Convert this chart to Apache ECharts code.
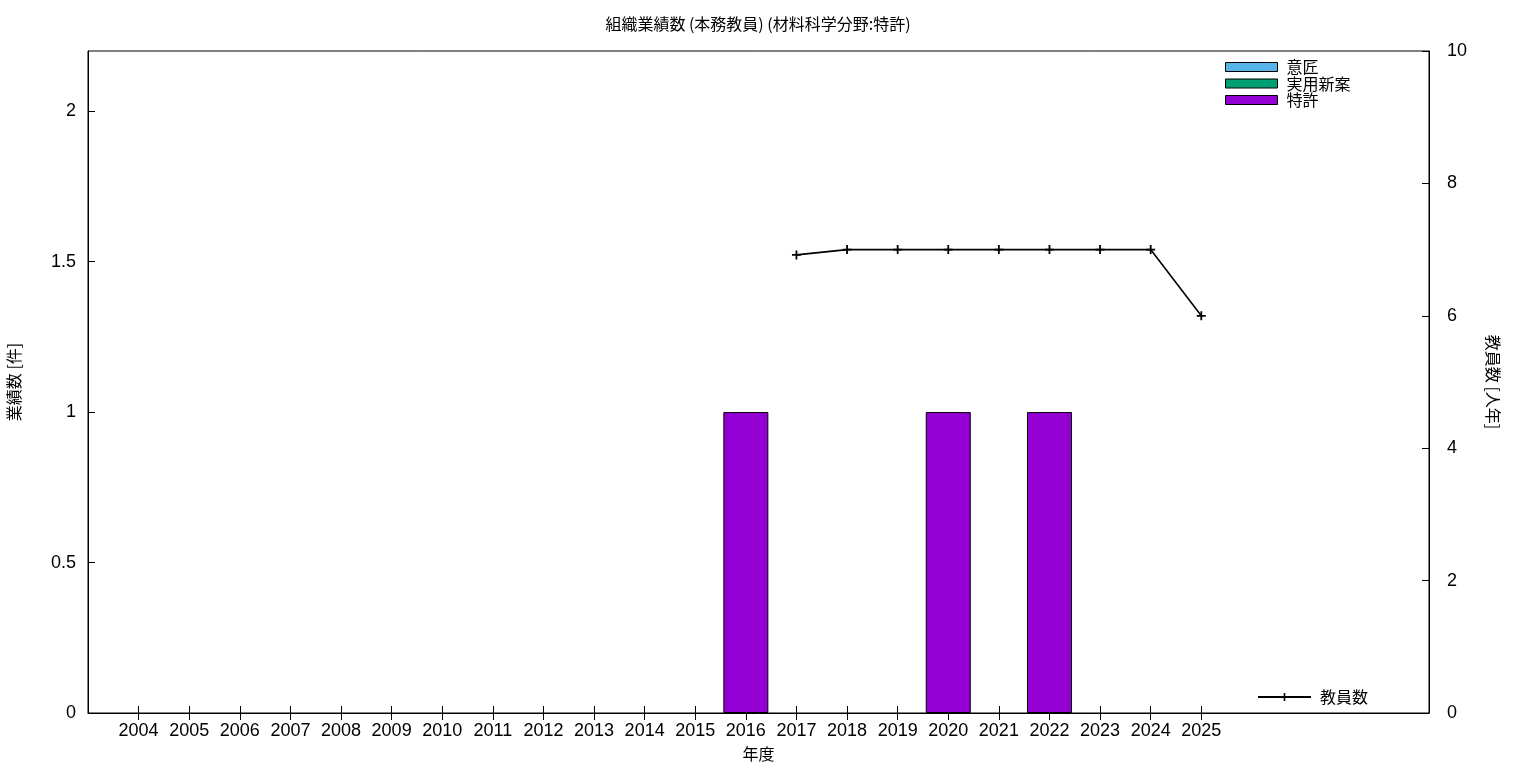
<!DOCTYPE html>
<html>
<head>
<meta charset="utf-8">
<script src="https://cdn.jsdelivr.net/npm/echarts@6/dist/echarts.min.js"></script>
<style>
html,body{margin:0;padding:0;background:#fff;}
#c{width:1536px;height:768px;}
</style>
</head>
<body>
<div id="c"></div>
<script>
const years = [2004,2005,2006,2007,2008,2009,2010,2011,2012,2013,2014,2015,2016,2017,2018,2019,2020,2021,2022,2023,2024,2025];
const designValues  = [0,0,0,0,0,0,0,0,0,0,0,0,0,0,0,0,0,0,0,0,0,0];
const utilityValues = [0,0,0,0,0,0,0,0,0,0,0,0,0,0,0,0,0,0,0,0,0,0];
const patentValues  = [0,0,0,0,0,0,0,0,0,0,0,0,1,0,0,0,1,0,1,0,0,0];
const staffYears  = [2017,2018,2019,2020,2021,2022,2023,2024,2025];
const staffValues = [6.92,7,7,7,7,7,7,7,6];
const leftTicks  = [0,0.5,1,1.5,2];
const rightTicks = [0,2,4,6,8,10];

const FONT = '"Noto Sans CJK JP", "Noto Sans", sans-serif';
const NUMFONT = '"Liberation Sans", "Noto Sans CJK JP", sans-serif';
const plus = 'path://M4,0H6V10H4ZM0,4H10V6H0Z';

const pairs = vals => years.map((y,i)=>[y, vals[i]]);

const chart = echarts.init(document.getElementById('c'), null, {renderer:'canvas'});
chart.setOption({
  animation:false,
  backgroundColor:'#fff',
  textStyle:{fontFamily:FONT,color:'#000'},
  title:{text:'組織業績数 (本務教員) (材料科学分野:特許)',left:758,top:16,textAlign:'center',padding:0,
    textStyle:{fontFamily:FONT,fontSize:16,fontWeight:'normal',color:'#000'}},
  grid:{left:88,right:107,top:51,bottom:55,show:true,borderColor:'#000',borderWidth:1,
    backgroundColor:'transparent',containLabel:false,outerBoundsMode:'none'},
  legend:[{
    data:['意匠','実用新案','特許'],orient:'vertical',left:1225,top:59,padding:0,
    itemWidth:52,itemHeight:9,itemGap:0.5,
    textStyle:{fontFamily:FONT,fontSize:16,lineHeight:16,color:'#000',padding:[0,0,0,4]},
    icon:'rect',itemStyle:{borderColor:'#000',borderWidth:1}
  },{
    data:['教員数'],left:1257,top:689,padding:0,itemWidth:53,itemHeight:10,
    textStyle:{fontFamily:FONT,fontSize:16,lineHeight:16,color:'#000',padding:[0,0,0,4]}
  }],
  xAxis:[{
    type:'value',min:2003,max:2029.5,interval:1,position:'bottom',
    name:'年度',nameLocation:'middle',nameGap:33,
    nameTextStyle:{fontFamily:FONT,fontSize:16,color:'#000'},
    axisLine:{show:true,lineStyle:{color:'#000',width:1}},
    axisTick:{show:true,inside:true,length:7,customValues:years,lineStyle:{color:'#000'}},
    axisLabel:{show:true,customValues:years,fontFamily:NUMFONT,fontSize:18,color:'#000',margin:9,formatter:v=>String(v)},
    splitLine:{show:false}
  },{
    type:'value',min:2003,max:2029.5,interval:1,position:'top',
    axisLine:{show:false},
    axisTick:{show:true,inside:true,length:7,customValues:years,lineStyle:{color:'#000'}},
    axisLabel:{show:false},splitLine:{show:false}
  }],
  yAxis:[{
    type:'value',min:0,max:2.2,position:'left',
    name:'業績数 [件]',nameLocation:'middle',nameGap:66,nameRotate:90,
    nameTextStyle:{fontFamily:FONT,fontSize:16,color:'#000'},
    axisLine:{show:true,lineStyle:{color:'#000'}},
    axisTick:{show:true,inside:true,length:7,customValues:leftTicks,lineStyle:{color:'#000'}},
    axisLabel:{show:true,customValues:leftTicks,fontFamily:NUMFONT,fontSize:18,color:'#000',margin:12,formatter:v=>String(v)},
    splitLine:{show:false}
  },{
    type:'value',min:0,max:10,position:'right',
    name:'教員数 [人年]',nameLocation:'middle',nameGap:56,nameRotate:-90,
    nameTextStyle:{fontFamily:FONT,fontSize:16,color:'#000'},
    axisLine:{show:true,lineStyle:{color:'#000'}},
    axisTick:{show:true,inside:true,length:7,customValues:rightTicks,lineStyle:{color:'#000'}},
    axisLabel:{show:true,customValues:rightTicks,fontFamily:NUMFONT,fontSize:18,color:'#000',margin:18,formatter:v=>String(v)},
    splitLine:{show:false}
  }],
  series:[{
    name:'意匠',type:'bar',stack:'s',barWidth:45,xAxisIndex:0,yAxisIndex:0,
    itemStyle:{color:'#56b4e9',borderColor:'#000',borderWidth:1},
    data:pairs(designValues).filter(p=>p[1]!==0)
  },{
    name:'実用新案',type:'bar',stack:'s',barWidth:45,xAxisIndex:0,yAxisIndex:0,
    itemStyle:{color:'#009e73',borderColor:'#000',borderWidth:1},
    data:pairs(utilityValues).filter(p=>p[1]!==0)
  },{
    name:'特許',type:'bar',stack:'s',barWidth:45,xAxisIndex:0,yAxisIndex:0,
    itemStyle:{color:'#9400d3',borderColor:'#000',borderWidth:1},
    data:pairs(patentValues).filter(p=>p[1]!==0)
  },{
    name:'教員数',type:'line',xAxisIndex:0,yAxisIndex:1,
    symbol:plus,symbolSize:9,showSymbol:true,
    lineStyle:{color:'#000',width:1.6},
    itemStyle:{color:'#000'},
    data:staffYears.map((y,i)=>[y,staffValues[i]])
  }]
});
</script>
</body>
</html>
